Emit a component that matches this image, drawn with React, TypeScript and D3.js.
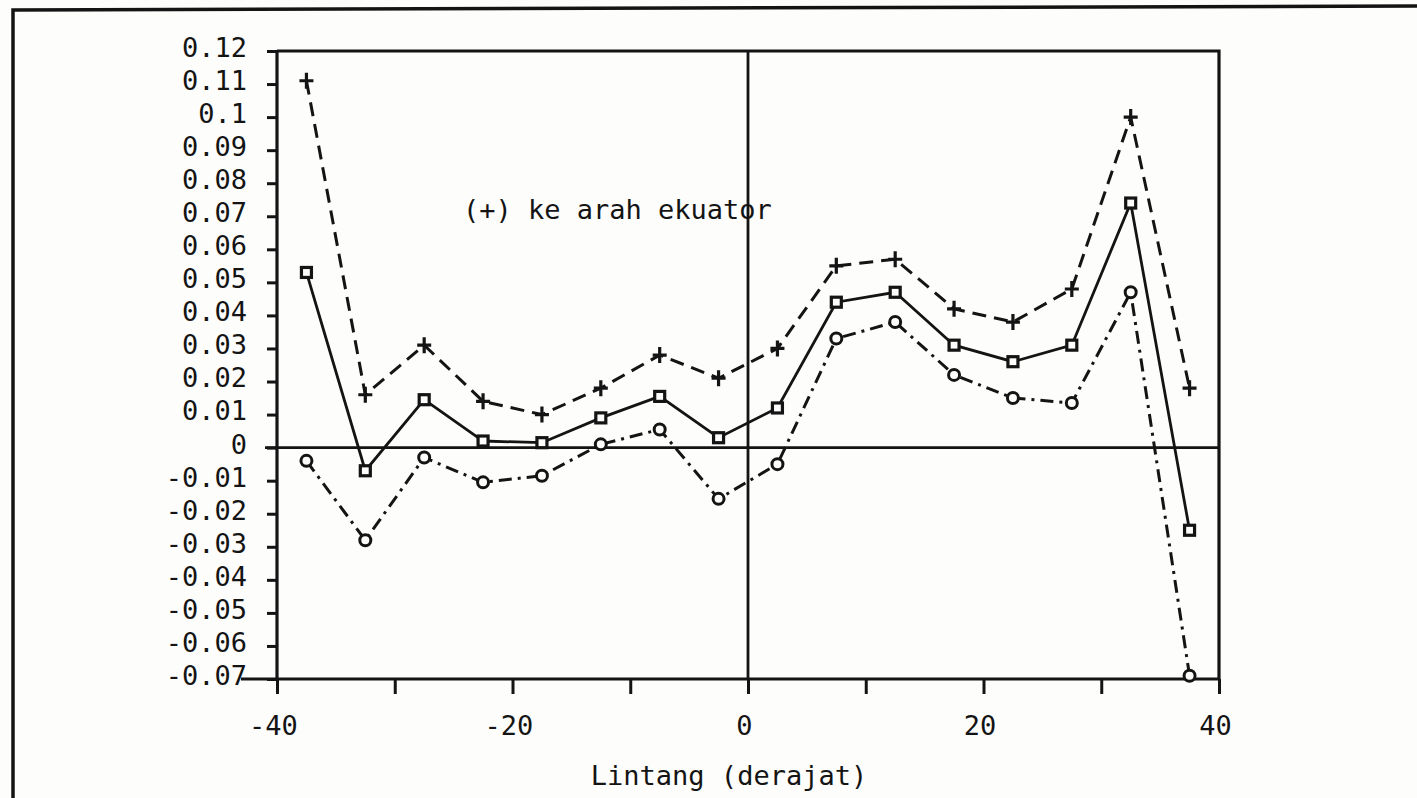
import { useEffect, useRef } from 'react';
import * as d3 from 'd3';

// latitude bins (5 degree bins, centres)
const latitudes = [-37.5, -32.5, -27.5, -22.5, -17.5, -12.5, -7.5, -2.5, 2.5, 7.5, 12.5, 17.5, 22.5, 27.5, 32.5, 37.5];

// dashed line, "+" markers
const plusSeries = [0.111, 0.016, 0.031, 0.014, 0.010, 0.018, 0.028, 0.021, 0.030, 0.055, 0.057, 0.042, 0.038, 0.048, 0.100, 0.018];
// solid line, square markers
const squareSeries = [0.053, -0.007, 0.0145, 0.002, 0.0015, 0.009, 0.0155, 0.003, 0.012, 0.044, 0.047, 0.031, 0.026, 0.031, 0.074, -0.025];
// dash-dot line, circle markers
const circleSeries = [-0.004, -0.028, -0.003, -0.0105, -0.0085, 0.001, 0.0055, -0.0155, -0.005, 0.033, 0.038, 0.022, 0.015, 0.0135, 0.047, -0.069];

const yTicks = [0.12, 0.11, 0.1, 0.09, 0.08, 0.07, 0.06, 0.05, 0.04, 0.03, 0.02, 0.01, 0, -0.01, -0.02, -0.03, -0.04, -0.05, -0.06, -0.07];
const yTickLabels = ['0.12', '0.11', '0.1', '0.09', '0.08', '0.07', '0.06', '0.05', '0.04', '0.03', '0.02', '0.01', '0', '-0.01', '-0.02', '-0.03', '-0.04', '-0.05', '-0.06', '-0.07'];
const xTicks = [-40, -30, -20, -10, 0, 10, 20, 30, 40];
const xLabeled = [-40, -20, 0, 20, 40];

const annotation = '(+) ke arah ekuator';
const xTitle = 'Lintang (derajat)';

const FONT = '"DejaVu Sans Mono", "Liberation Mono", monospace';
const INK = '#141414';
const PAPER = '#fdfdfc';

export default function App() {
  const svgRef = useRef<SVGSVGElement>(null);

  useEffect(() => {
    if (!svgRef.current) return;
    const svg = d3.select(svgRef.current);
    svg.selectAll('*').remove();

    const width = 1417;
    const height = 798;

    const x = d3.scaleLinear().domain([-40, 40]).range([277, 1219]);
    const y = d3.scaleLinear().domain([-0.07, 0.12]).range([679, 51]);

    svg.append('rect').attr('width', width).attr('height', height).attr('fill', PAPER);

    // outer frame of the scanned page
    svg.append('path')
      .attr('d', `M13,798 L13,10 L1417,6`)
      .attr('fill', 'none')
      .attr('stroke', INK)
      .attr('stroke-width', 3.5);

    const [x0, x1] = x.range();
    const [yb, yt] = y.range();

    // box top and right
    svg.append('path')
      .attr('d', `M${x0},${yt} L${x1},${yt} L${x1},${yb}`)
      .attr('fill', 'none')
      .attr('stroke', INK)
      .attr('stroke-width', 3.2);

    // left axis
    const yAxis = svg.append('g')
      .attr('transform', `translate(${x0},0)`)
      .call(
        d3.axisLeft(y)
          .tickValues(yTicks)
          .tickSize(10)
          .tickPadding(20)
          .tickFormat((d, i) => yTickLabels[i])
      );
    yAxis.select('.domain').attr('stroke', INK).attr('stroke-width', 3.2).attr('d', `M0,${yt}V${yb}`);
    yAxis.selectAll('.tick line').attr('stroke', INK).attr('stroke-width', 3);
    yAxis.selectAll('.tick text')
      .attr('fill', INK)
      .attr('font-family', FONT)
      .attr('font-size', 27)
      .attr('dy', '0.2em');

    // bottom axis
    const xAxis = svg.append('g')
      .attr('transform', `translate(0,${yb})`)
      .call(
        d3.axisBottom(x)
          .tickValues(xTicks)
          .tickSize(15)
          .tickPadding(22)
          .tickFormat(d => (xLabeled.includes(d as number) ? String(d) : ''))
      );
    xAxis.select('.domain').attr('stroke', INK).attr('stroke-width', 3.2).attr('d', `M${x0 - 36},0H${x1}`);
    xAxis.selectAll('.tick line').attr('stroke', INK).attr('stroke-width', 3);
    xAxis.selectAll('.tick text')
      .attr('fill', INK)
      .attr('font-family', FONT)
      .attr('font-size', 27)
      .attr('dx', '-0.15em');

    // zero reference lines
    svg.append('line')
      .attr('x1', x0 - 12).attr('x2', x1)
      .attr('y1', y(0)).attr('y2', y(0))
      .attr('stroke', INK).attr('stroke-width', 2.8);
    svg.append('line')
      .attr('x1', x(0)).attr('x2', x(0))
      .attr('y1', yt).attr('y2', yb)
      .attr('stroke', INK).attr('stroke-width', 2.8);

    const line = d3.line<number>()
      .x((d, i) => x(latitudes[i]))
      .y(d => y(d));

    const g = svg.append('g');

    g.append('path')
      .datum(plusSeries)
      .attr('d', line)
      .attr('fill', 'none')
      .attr('stroke', INK)
      .attr('stroke-width', 3)
      .attr('stroke-dasharray', '14,8');

    g.append('path')
      .datum(squareSeries)
      .attr('d', line)
      .attr('fill', 'none')
      .attr('stroke', INK)
      .attr('stroke-width', 2.8);

    g.append('path')
      .datum(circleSeries)
      .attr('d', line)
      .attr('fill', 'none')
      .attr('stroke', INK)
      .attr('stroke-width', 3)
      .attr('stroke-dasharray', '13,6,3,6');

    // markers
    g.selectAll('.plus')
      .data(plusSeries)
      .enter()
      .append('path')
      .attr('transform', (d, i) => `translate(${x(latitudes[i])},${y(d)})`)
      .attr('d', 'M-7,0H7M0,-8V8')
      .attr('stroke', INK)
      .attr('stroke-width', 3.2);

    g.selectAll('.square')
      .data(squareSeries)
      .enter()
      .append('rect')
      .attr('x', (d, i) => x(latitudes[i]) - 5)
      .attr('y', d => y(d) - 5)
      .attr('width', 10)
      .attr('height', 10)
      .attr('fill', PAPER)
      .attr('stroke', INK)
      .attr('stroke-width', 3.2);

    g.selectAll('.circle')
      .data(circleSeries)
      .enter()
      .append('circle')
      .attr('cx', (d, i) => x(latitudes[i]))
      .attr('cy', d => y(d))
      .attr('r', 5.5)
      .attr('fill', PAPER)
      .attr('stroke', INK)
      .attr('stroke-width', 3);

    svg.append('text')
      .attr('x', 463)
      .attr('y', 219)
      .attr('font-family', FONT)
      .attr('font-size', 27)
      .attr('fill', INK)
      .text(annotation);

    svg.append('text')
      .attr('x', 729)
      .attr('y', 785)
      .attr('text-anchor', 'middle')
      .attr('font-family', FONT)
      .attr('font-size', 27)
      .attr('fill', INK)
      .text(xTitle);
  }, []);

  return (
    <svg
      ref={svgRef}
      width={1417}
      height={798}
      style={{ position: 'absolute', left: 0, top: 0, display: 'block' }}
    />
  );
}
